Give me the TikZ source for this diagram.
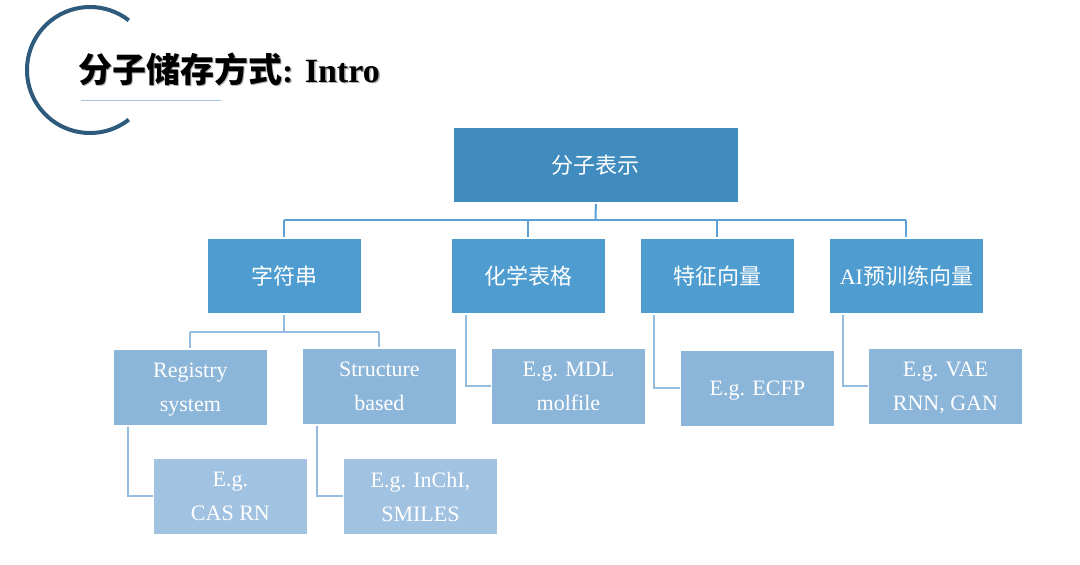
\documentclass[tikz,border=0pt]{standalone}
\usepackage{fontspec}
\setmainfont{Liberation Serif}
\newfontfamily\cjk{Noto Sans CJK SC}
\definecolor{rootc}{HTML}{418CBE}
\definecolor{lvone}{HTML}{4F9DD0}
\definecolor{lvtwo}{HTML}{8CB5DA}
\definecolor{lvthree}{HTML}{A1C2E1}
\definecolor{connA}{HTML}{5BA0D6}
\definecolor{connB}{HTML}{95BCE0}
\definecolor{arcc}{HTML}{2E5A7C}
\definecolor{uline}{HTML}{9CC3E5}
\tikzset{
  box/.style={rectangle, draw=white, line width=0.8pt, text=white, inner sep=0pt,
    align=center, anchor=north west},
  rootbox/.style={box, fill=rootc, minimum width=285pt, minimum height=75pt,
    font=\cjk\fontsize{22}{26}\selectfont},
  onebox/.style={box, fill=lvone, minimum width=154pt, minimum height=75pt,
    font=\cjk\fontsize{22}{26}\selectfont},
  twobox/.style={box, fill=lvtwo, minimum width=154pt, minimum height=76pt,
    text depth=-4pt, font=\fontsize{22}{34}\selectfont},
  threebox/.style={box, fill=lvthree, minimum width=154pt, minimum height=76pt,
    text depth=-4pt, font=\fontsize{22}{34}\selectfont},
  conna/.style={draw=connA, line width=2pt},
  connb/.style={draw=connB, line width=2pt},
}
\begin{document}
\begin{tikzpicture}[x=1pt,y=-1pt]
\useasboundingbox[fill=white] (0,0) rectangle (1080,565);
% title decoration
\draw[arcc, line width=4pt] (90,70) ++(52:63) arc[start angle=52, end angle=308, radius=63];
\draw[uline, line width=1pt] (81,100) -- (221,100);
\node[anchor=base west, inner sep=0pt, text=black!45, opacity=0.7] at (79.5,83.5)
  {\fontsize{34}{40}\selectfont\cjk\bfseries 分子储存方式\textrm{\bfseries: Intro}};
\node (title) [anchor=base west, inner sep=0pt, text=black] at (78,82)
  {\fontsize{34}{40}\selectfont\cjk\bfseries 分子储存方式\textrm{\bfseries: Intro}};
% nodes
\node (root) [rootbox] at (453,127) {分子表示};
\node (c1) [onebox] at (207,238) {字符串};
\node (c2) [onebox] at (451,238) {化学表格};
\node (c3) [onebox] at (640,238) {特征向量};
\node (c4) [onebox] at (829,238) {\textrm{AI}预训练向量};
\node (reg) [twobox] at (113,349) {Registry\\system};
\node (str) [twobox] at (302,348) {Structure\\based};
\node (mdl) [twobox] at (491,348) {E.g. MDL\\molfile};
\node (ecfp) [twobox] at (680,350) {E.g. ECFP};
\node (vae) [twobox] at (868,348) {E.g. VAE\\RNN, GAN};
\node (cas) [threebox] at (153,458) {E.g.\\CAS RN};
\node (inchi) [threebox] at (343,458) {E.g. InChI,\\SMILES};
% connectors level 1
\coordinate (hub) at (595.5,220);
\draw[conna] ([yshift=-1pt]root.south) -- (hub);
\draw[conna] (c1.north |- hub) -- (c4.north |- hub);
\foreach \c in {c1,c2,c3,c4} \draw[conna] (\c.north |- hub) -- ([yshift=1pt]\c.north);
% connectors level 2
\coordinate (hubb) at (284,332);
\draw[connb] ([yshift=-1pt]c1.south) -- (c1.south |- hubb);
\draw[connb] (reg.north |- hubb) -- (str.north |- hubb);
\draw[connb] (reg.north |- hubb) -- ([yshift=1pt]reg.north);
\draw[connb] (str.north |- hubb) -- ([yshift=1pt]str.north);
% side connectors
\draw[connb] ([xshift=15pt,yshift=-1pt]reg.south west) |- (cas.west);
\draw[connb] ([xshift=15pt,yshift=-1pt]str.south west) |- (inchi.west);
\draw[connb] ([xshift=15pt,yshift=-1pt]c2.south west) |- (mdl.west);
\draw[connb] ([xshift=14pt,yshift=-1pt]c3.south west) |- (ecfp.west);
\draw[connb] ([xshift=14pt,yshift=-1pt]c4.south west) |- (vae.west);
\end{tikzpicture}
\end{document}
